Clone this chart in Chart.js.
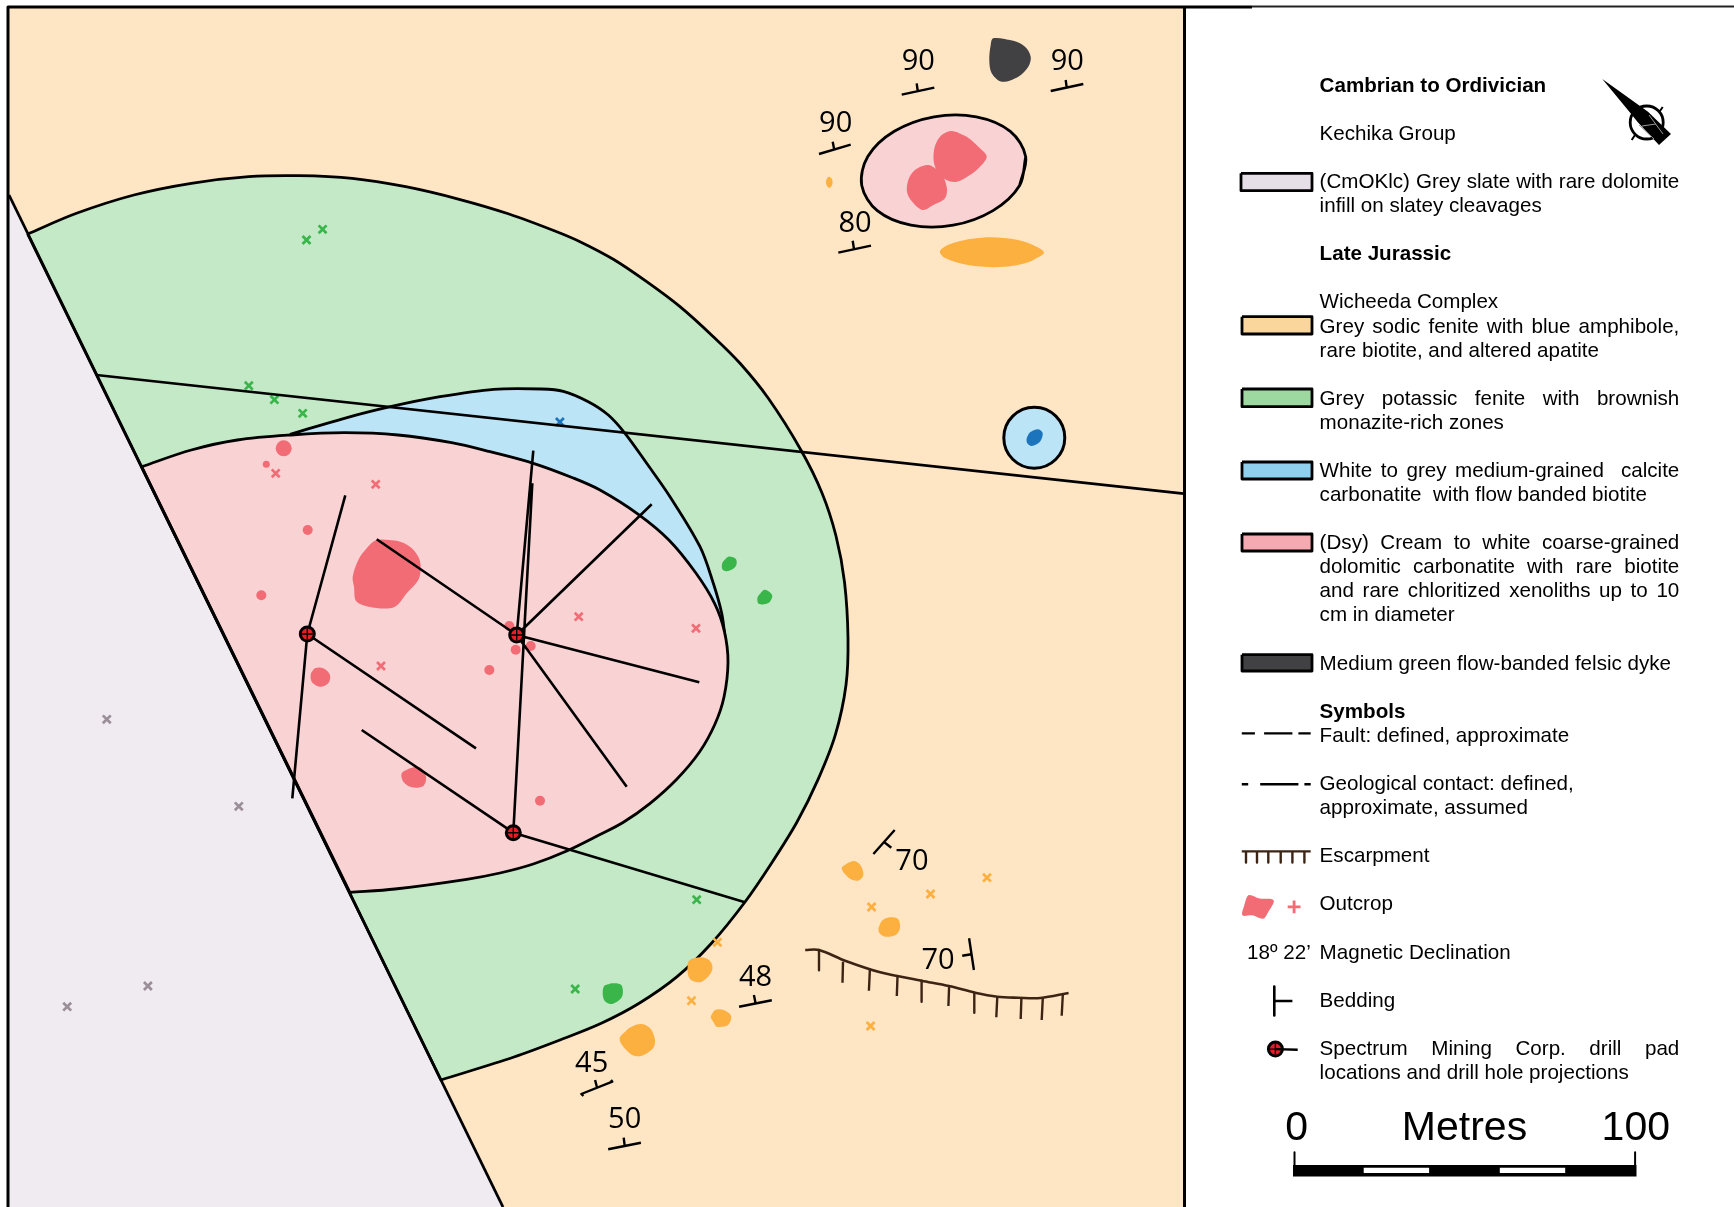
<!DOCTYPE html>
<html>
<head>
<meta charset="utf-8">
<title>Geological map</title>
<script src="https://cdn.jsdelivr.net/npm/chart.js@4"></script>
<style>
  html, body { margin: 0; padding: 0; background: #fff; }
  canvas { display: block; }
</style>
</head>
<body>
<canvas id="myChart" width="1734" height="1207"></canvas>
<script>
// map units are read straight off the picture, y runs downwards
const mapWidth = 1734;
const mapHeight = 1207;

// geological units
const slateEdge = [[9,195],[503,1207]];
const greenArc = [[27.6,234],[76.5,213.3],[133.9,195],[191.3,183.3],[248.8,176.7],[298.5,175.7],[352.1,178.3],[405.7,186.7],[459.2,199.3],[509,214],[554.9,231],[580,241.7],[613.3,259.3],[646.7,281.7],[680,306.7],[713.3,336.7],[740,363.3],[768.3,398.3],[800.9,450],[822,493],[836,536],[844.5,582],[848,638.3],[846,685],[835.4,734.7],[818.1,779.4],[797,822],[771,864],[745,902],[711.5,943.3],[677.1,976.7],[639.2,1003.3],[601.3,1023.3],[560,1040],[514,1057],[440.9,1080]];
const blueArc = [[290,434.3],[344.4,418.3],[390.4,406.7],[440,396.7],[493.7,389.3],[541.7,389],[563.3,391.3],[588.3,401.7],[608.3,415],[625,433.3],[646.7,463.3],[670,496.7],[700,546.7],[713.3,583.3],[721.7,613.3],[725,636.7]];
const pinkArc = [[141.6,466.7],[191.3,450],[237.3,440],[290.9,435],[344.4,432.7],[398,435],[451.6,442.7],[490,451.7],[533.3,463.3],[573.3,478],[600,490],[638.3,514.3],[668.9,540],[695.7,572.8],[714.8,603.8],[724.4,631.4],[728,662],[724,697],[715,724],[699.5,752],[676.5,779.5],[649.8,803.6],[623,822.5],[600,834.5],[566.7,851],[533.3,864],[500,873],[466.7,879.3],[395,889],[350,892.5]];
const pinkEllipse = [[1025.7,156.7],[1019.6,185.5],[993,210.6],[953.2,225.2],[911,225.2],[877.3,210.7],[861.7,185.3],[867.8,156.5],[894.3,131.3],[934.1,116.8],[976.3,116.8],[1010.3,131.3]];
const blueStock = [[1034.3,437.7]];

// outcrops, as outlines
const redOutcrops = [
  [[951.7,131],[966.7,136.7],[980,148.3],[986.7,156.7],[980,166.7],[970,175],[956.7,181.7],[945,179.3],[935,166.7],[934,150],[940,136.7]],
  [[928.3,165],[940,171.7],[946.7,186.7],[945,198.3],[933.3,205],[923.3,210],[915,205],[907.3,193.3],[908.3,180],[915,170]],
  [[376.7,540],[396.7,540.7],[410,546.7],[418.3,556.7],[420.7,566.7],[418.3,580],[406.7,593.3],[395,606.7],[376.7,608],[356.7,601.7],[354,586.7],[352.7,576.7],[358.3,560],[366.7,548.3]],
  [[311,673.3],[315,668.3],[323.3,668.3],[330,675],[328.3,683.3],[320,686.7],[311.7,681.7]],
  [[401.7,773.3],[410,768.3],[420,767.3],[426,776.7],[423.3,786],[411.7,787.3],[403.3,781.7]],
  [[1248.9,895.1],[1259.5,898.5],[1273.6,900.2],[1268.3,911.9],[1263,918.7],[1252.4,915.3],[1242.5,915.3],[1244.3,905.2]]
];
const orangeOutcrops = [
  [[1044,253],[1029,262],[1001,267],[968,265],[945,258],[940,251],[953,243],[984,237.5],[1018,240],[1037,247]],
  [[829.3,176.8],[831.6,178.5],[832.6,182.3],[831.6,186],[829.3,187.8],[827,186],[826,182.3],[827,178.5]],
  [[841.7,868.3],[847.5,863.3],[854.4,861],[860.3,865],[863.4,875],[857.9,880.7],[849.3,878.3]],
  [[878.5,928.3],[882,920.7],[890.6,917.3],[898.2,919.3],[899.9,928.3],[895.7,935],[885.4,936.7],[879.6,933.3]],
  [[687.4,970],[689.1,960.7],[701.2,957.3],[709.8,960.7],[712.5,968.3],[708.1,976.7],[699.5,982.3],[690.2,979.3]],
  [[710.8,1016.7],[715,1010],[723.6,1010],[731.1,1016],[728,1025],[716.7,1026.7],[713.9,1022.7]],
  [[619.6,1039.3],[628.9,1028.3],[640.9,1024],[650.2,1028.3],[655,1040],[653,1048.3],[640.9,1056],[630.6,1054]]
];
const greenOutcrops = [
  [[603.7,986.7],[611.7,983.3],[621.3,985],[622,996.7],[611.7,1004],[604.1,1000]],
  [[722.5,562.5],[728.2,556.7],[735.9,559],[735.9,566],[728.2,571.1],[722.5,569.4]],
  [[757.7,596.9],[764.6,589.7],[772.2,595.2],[768.4,603.1],[758.8,603.8]]
];
const blueOutcrop = [[1026.7,438.3],[1030,432.3],[1038.3,429.3],[1042.7,433.3],[1040,441.7],[1031.7,446],[1027.3,443.3]];
const darkOutcrop = [[993.3,38.3],[1013.3,40.7],[1025,46.7],[1030.7,56.7],[1028.3,66.7],[1018.3,76.7],[1001.7,81.7],[991.7,73.3],[989.3,60],[990.7,45]];

// small round outcrops and their sizes
const redDots = [[283.7,448.3],[266.3,464.3],[307.7,530],[261.3,595.3],[489.3,670],[515.7,649.7],[530.7,646],[509.3,626],[540,800.7]];
const redDotSizes = [8,3.5,5,5,5,5,5,5,5];

// station crosses
const redCrosses = [[275.7,473.3],[375.7,484.3],[578.7,616.7],[696,628.3],[381,666]];
const greenCrosses = [[322.6,229.3],[306.5,240],[248.8,385.7],[274.4,399.7],[302.7,413.3],[696.7,899.7],[575.2,989]];
const blueCrosses = [[559.9,422]];
const greyCrosses = [[106.8,719.3],[238.8,806.3],[147.9,986],[67.2,1006.7]];
const orangeCrosses = [[987,877.7],[930.5,894],[871.6,907],[717.4,942.3],[691.5,1000.7],[870.6,1026]];

// faults and drill holes
const faults = [
  [[96.4,375],[1183.6,493.6]],
  [[513.3,832.7],[745,902.3]]
];
const drillPads = [[307.3,634],[516.7,635],[513.3,832.7],[1275.4,1049.1]];
const drillHoles = [
  [[307.3,634],[345.3,495.3]],
  [[307.3,634],[292.3,798.3]],
  [[307.3,634],[476,748.3]],
  [[516.7,635],[533.3,450.7]],
  [[516.7,635],[651.7,504.3]],
  [[516.7,635],[376.7,539.3]],
  [[516.7,635],[699.3,682.3]],
  [[516.7,635],[626.7,786.7]],
  [[513.3,832.7],[532.3,483.3]],
  [[513.3,832.7],[361.7,730]]
];

// bedding symbols and their dips
const bedding = [
  [[901.7,94.7],[934.3,87.7]], [[916.7,83.3],[917.7,91]],
  [[1050.7,91],[1083.3,84]], [[1065.7,80],[1066.7,87.7]],
  [[819,154],[850.7,144.7]], [[832.7,141.7],[834.3,150]],
  [[838.3,252.7],[871,245.7]], [[852.7,240.7],[854,249.3]],
  [[873.4,854],[894.7,830]], [[883.7,841.7],[891.3,847.7]],
  [[969.1,938.3],[973.9,970]], [[962.2,955.7],[971.2,954.3]],
  [[739.1,1006.7],[771.8,1000.3]], [[753.9,995],[755.6,1003.3]],
  [[583.4,1096],[581.3,1094],[612.3,1081.7],[611,1080]], [[595.1,1080],[597.2,1088.3]],
  [[608.2,1149.3],[640.9,1142.7]], [[623.7,1137.7],[624.7,1146]]
];
const dipLabels = ['90','90','90','80','70','70','48','45','50'];
const dipX = [918.3,1067.3,835.7,855,911.9,938.1,755.6,591.7,624.7];
const dipY = [70,70,131.7,231.7,870,969,986,1072.3,1128.3];

// escarpment
const escarpment = [[805.2,950],[819,950],[845.8,961],[880.2,972.3],[921.6,980.7],[949.1,986],[975,992.7],[997.3,996.7],[1018,997.7],[1040.4,998],[1068.6,993]];
const escarpmentTicks = [
  [[819,950],[819,970.3]], [[843,961.7],[842.5,982.7]], [[869.9,969],[868.9,990.7]],
  [[897.5,976.7],[896.8,996]], [[921.6,980.7],[921.6,1001.7]], [[949.1,986.7],[948.4,1006]],
  [[974.3,992.7],[974.3,1012.7]], [[997.3,996.7],[996.3,1017.3]], [[1021.4,998.3],[1020.7,1019]],
  [[1042.8,998],[1041.7,1020]], [[1062.8,995],[1061.7,1015.7]]
];

// legend
const swatchBoxes = [[1241,173.3,1312,190.7],[1242,316.7,1312,334],[1242,389,1312,406.7],[1242,462,1312,479],[1242,534,1312,551],[1242,654.7,1312,671]];
const swatchColors = ['#E6DFE8','#FBD69C','#9CD8A0','#8FD0EE','#F5A9B0','#414042'];
const legendRows = [0,2,4,5,7,9,10,11,13,14,16,17,19,20,21,22,24,26,27,29,30,32,34,36,38,40,41];
const legendTexts = [
  'Cambrian to Ordivician',
  'Kechika Group',
  '(CmOKlc) Grey slate with rare dolomite',
  'infill on slatey cleavages',
  'Late Jurassic',
  'Wicheeda Complex',
  'Grey sodic fenite with blue amphibole,',
  'rare biotite, and altered apatite',
  'Grey potassic fenite with brownish',
  'monazite-rich zones',
  'White to grey medium-grained  calcite',
  'carbonatite  with flow banded biotite',
  '(Dsy) Cream to white coarse-grained',
  'dolomitic carbonatite with rare biotite',
  'and rare chloritized xenoliths up to 10',
  'cm in diameter',
  'Medium green flow-banded felsic dyke',
  'Symbols',
  'Fault: defined, approximate',
  'Geological contact: defined,',
  'approximate, assumed',
  'Escarpment',
  'Outcrop',
  'Magnetic Declination',
  'Bedding',
  'Spectrum Mining Corp. drill pad',
  'locations and drill hole projections'
];
const boldTexts = ['Cambrian to Ordivician','Late Jurassic','Symbols'];
const justifiedTexts = [
  '(CmOKlc) Grey slate with rare dolomite',
  'Grey sodic fenite with blue amphibole,',
  'Grey potassic fenite with brownish',
  'White to grey medium-grained  calcite',
  '(Dsy) Cream to white coarse-grained',
  'dolomitic carbonatite with rare biotite',
  'and rare chloritized xenoliths up to 10',
  'Spectrum Mining Corp. drill pad'
];
const legendFault = [[[1241.8,733.4],[1254.9,733.4]],[[1264.1,733.4],[1292.4,733.4]],[[1298.4,733.4],[1310.7,733.4]]];
const legendContact = [[[1241.8,784.2],[1248.2,784.2]],[[1260.2,784.2],[1298.4,784.2]],[[1304.4,784.2],[1310.7,784.2]]];
const legendEscarpment = [[[1241.8,851.4],[1310.7,851.4]],[[1246,851.4],[1246,862.5]],[[1257,851.4],[1257,862.5]],[[1268.3,851.4],[1268.3,862.5]],[[1280.7,851.4],[1280.7,862.5]],[[1292.4,851.4],[1292.4,862.5]],[[1304.4,851.4],[1304.4,862.5]]];
const legendBedding = [[[1274.3,986.6],[1274.3,1015.5]],[[1274.3,1001],[1292.4,1001]]];
const legendDrill = [[[1275.4,1049.1],[1297.7,1049.7]]];
const legendCross = [[1294.1,906.9]];

// scale bar and north arrow
const scaleBarBlack = [1293,1165,1636.5,1176.5];
const scaleBarWhite = [[1363.7,1167.7,1429.1,1173.1],[1499.8,1167.7,1565.2,1173.1]];
const scaleBarTicks = [[[1294.5,1152.3],[1294.5,1165]],[[1635.1,1152.3],[1635.1,1165]]];
const scaleLabels = ['0','Metres','100'];
const scaleLabelX = [1296.6,1464.5,1635.8];
const compassNeedle = [[1602.3,79],[1648,111.7],[1671,134],[1659,145],[1637.6,122],[1632,115]];
const compassRing = [[1646.7,122.5]];
const compassTicks = [[[1662.7,107],[1659.3,112]],[[1631.7,140],[1635,135]]];
const compassNorth = [[[1649,115],[1663,134]],[[1639,125],[1654,139]],[[1642,126],[1656,124]]];

const black = '#000';
const pale = {beige:'#FEE5C4', slate:'#F0EBF0', green:'#C3E9C6', blue:'#BBE4F6', pink:'#F9D2D4'};
const rock = {red:'#F26C75', orange:'#FBB040', green:'#39B54A', blue:'#1C75BC', dark:'#414042', grey:'#9A8F98', brown:'#3C2415'};

const xy = pts => pts.map(p => ({x: p[0], y: p[1]}));
const rect = b => [[b[0],b[1]],[b[2],b[1]],[b[2],b[3]],[b[0],b[3]],[b[0],b[1]]];
// doubled points keep a sharp corner when the curve is smoothed
const arcShape = pts => [pts[0], ...pts, pts[pts.length-1], pts[pts.length-1], pts[0], pts[0]];
const loopShape = pts => [...pts, pts[0], pts[1]];
const withGaps = segs => {
  const out = [];
  segs.forEach(s => { s.forEach(p => out.push({x: p[0], y: p[1]})); out.push({x: null, y: null}); });
  return out;
};

// 1/3 is the tension that passes through the points without lumps
const smooth = 0.33;

// shapes are pushed back to front, reversed at the end for Chart.js
const layers = [];
function area(pts, fillColor, lineWidth, tension) {
  layers.push({
    data: xy(pts), showLine: true, fill: 'shape', backgroundColor: fillColor,
    borderColor: lineWidth ? black : 'transparent', borderWidth: lineWidth || 0,
    borderJoinStyle: 'round', tension: tension || 0, pointRadius: 0, pointHoverRadius: 0
  });
}
function lines(segs, color, width) {
  layers.push({
    data: withGaps(segs), showLine: true, fill: false, borderColor: color, borderWidth: width,
    borderCapStyle: 'butt', borderJoinStyle: 'round', spanGaps: false, tension: 0, pointRadius: 0, pointHoverRadius: 0
  });
}
function curve(pts, color, width) {
  layers.push({
    data: xy(pts), showLine: true, fill: false, borderColor: color, borderWidth: width,
    tension: smooth, pointRadius: 0, pointHoverRadius: 0
  });
}
function markers(pts, style, size, fillColor, edgeColor, edgeWidth) {
  layers.push({
    data: xy(pts), showLine: false, pointStyle: style, pointRadius: size, pointHoverRadius: size,
    pointBackgroundColor: fillColor, pointBorderColor: edgeColor, pointBorderWidth: edgeWidth
  });
}

// map background and units
area(rect([8,7,1184,1207]), pale.beige);
area([[9,195],[503,1207],[8,1207],[9,195]], pale.slate);
area(arcShape(greenArc), pale.green, 2.8, smooth);
area(arcShape(blueArc), pale.blue, 2.8, smooth);
area(arcShape(pinkArc), pale.pink, 2.8, smooth);
lines([slateEdge], black, 2.8);
area(loopShape(pinkEllipse), pale.pink, 2.8, smooth);
markers(blueStock, 'circle', 30.5, pale.blue, black, 3);

// outcrops
redOutcrops.forEach(o => area(loopShape(o), rock.red, 0, smooth));
orangeOutcrops.forEach(o => area(loopShape(o), rock.orange, 0, smooth));
greenOutcrops.forEach(o => area(loopShape(o), rock.green, 0, smooth));
area(loopShape(blueOutcrop), rock.blue, 0, smooth);
area(loopShape(darkOutcrop), rock.dark, 0, smooth);
markers(redDots, 'circle', redDotSizes, rock.red, rock.red, 0);

markers(redCrosses, 'crossRot', 5.6, rock.red, rock.red, 2.7);
markers(greenCrosses, 'crossRot', 5.6, rock.green, rock.green, 2.7);
markers(blueCrosses, 'crossRot', 5.6, rock.blue, rock.blue, 2.7);
markers(greyCrosses, 'crossRot', 5.6, rock.grey, rock.grey, 2.7);
markers(orangeCrosses, 'crossRot', 5.6, rock.orange, rock.orange, 2.7);

// structure
lines(faults, black, 2.6);
lines(drillHoles, black, 2.6);
lines(bedding, black, 2.4);
curve(escarpment, rock.brown, 2.6);
lines(escarpmentTicks, rock.brown, 2.4);
markers(drillPads, 'circle', 7, '#ED1C24', black, 3);
markers(drillPads, 'cross', 5.5, black, black, 1.4);

// map frame
lines([[[8,1207],[8,7],[1252,7]],[[1184.5,7],[1184.5,1207]]], black, 3);
lines([[[1252,6.5],[1734,6.5]]], '#222', 1.8);

// legend marks
swatchBoxes.forEach((b, i) => area(rect(b), swatchColors[i], 2.8));
lines(legendFault, black, 2.4);
lines(legendContact, black, 2.4);
lines(legendEscarpment, rock.brown, 2.4);
markers(legendCross, 'cross', 6.4, rock.red, rock.red, 2.8);
lines(legendBedding, black, 2.6);
lines(legendDrill, black, 2.4);

// scale bar and north arrow
area(rect(scaleBarBlack), black);
scaleBarWhite.forEach(b => area(rect(b), '#fff'));
lines(scaleBarTicks, black, 2);
markers(compassRing, 'circle', 16.5, 'transparent', black, 2.8);
lines(compassTicks, black, 2);
area([...compassNeedle, compassNeedle[0]], black);
lines(compassNorth, '#999', 1);

const textPlugin = {
  id: 'mapText',
  afterDatasetsDraw(chart) {
    const ctx = chart.ctx;
    const sx = v => chart.scales.x.getPixelForValue(v);
    const sy = v => chart.scales.y.getPixelForValue(v);
    ctx.save();
    ctx.fillStyle = '#000';
    ctx.textBaseline = 'alphabetic';

    ctx.textAlign = 'center';
    ctx.font = '29px "Open Sans"';
    dipLabels.forEach((t, i) => ctx.fillText(t, sx(dipX[i]), sy(dipY[i])));

    ctx.font = '41px "Liberation Sans"';
    scaleLabels.forEach((t, i) => ctx.fillText(t, sx(scaleLabelX[i]), sy(1139.8)));

    ctx.textAlign = 'left';
    legendTexts.forEach((t, i) => {
      ctx.font = (boldTexts.includes(t) ? 'bold ' : '') + '20.6px "Liberation Sans"';
      ctx.wordSpacing = '0px';
      if (justifiedTexts.includes(t)) {
        const spaces = t.split(' ').length - 1;
        ctx.wordSpacing = ((1679.3 - 1319.6 - ctx.measureText(t).width) / spaces) + 'px';
      }
      ctx.fillText(t, sx(1319.6), sy(91.7 + 24.08 * legendRows[i]));
    });
    ctx.wordSpacing = '0px';
    ctx.font = '20.6px "Liberation Sans"';
    ctx.fillText('18º 22’', sx(1247.1), sy(958.6));
    ctx.restore();
  }
};

const ctx = document.getElementById('myChart').getContext('2d');
const myChart = new Chart(ctx, {
  type: 'scatter',
  data: { datasets: layers.slice().reverse() },
  plugins: [textPlugin],
  options: {
    responsive: false,
    animation: false,
    devicePixelRatio: 1,
    layout: { padding: 0, autoPadding: false },
    plugins: { legend: { display: false }, tooltip: { enabled: false } },
    scales: {
      x: { type: 'linear', min: 0, max: mapWidth, display: false },
      y: { type: 'linear', min: 0, max: mapHeight, reverse: true, display: false }
    }
  }
});
</script>
</body>
</html>
